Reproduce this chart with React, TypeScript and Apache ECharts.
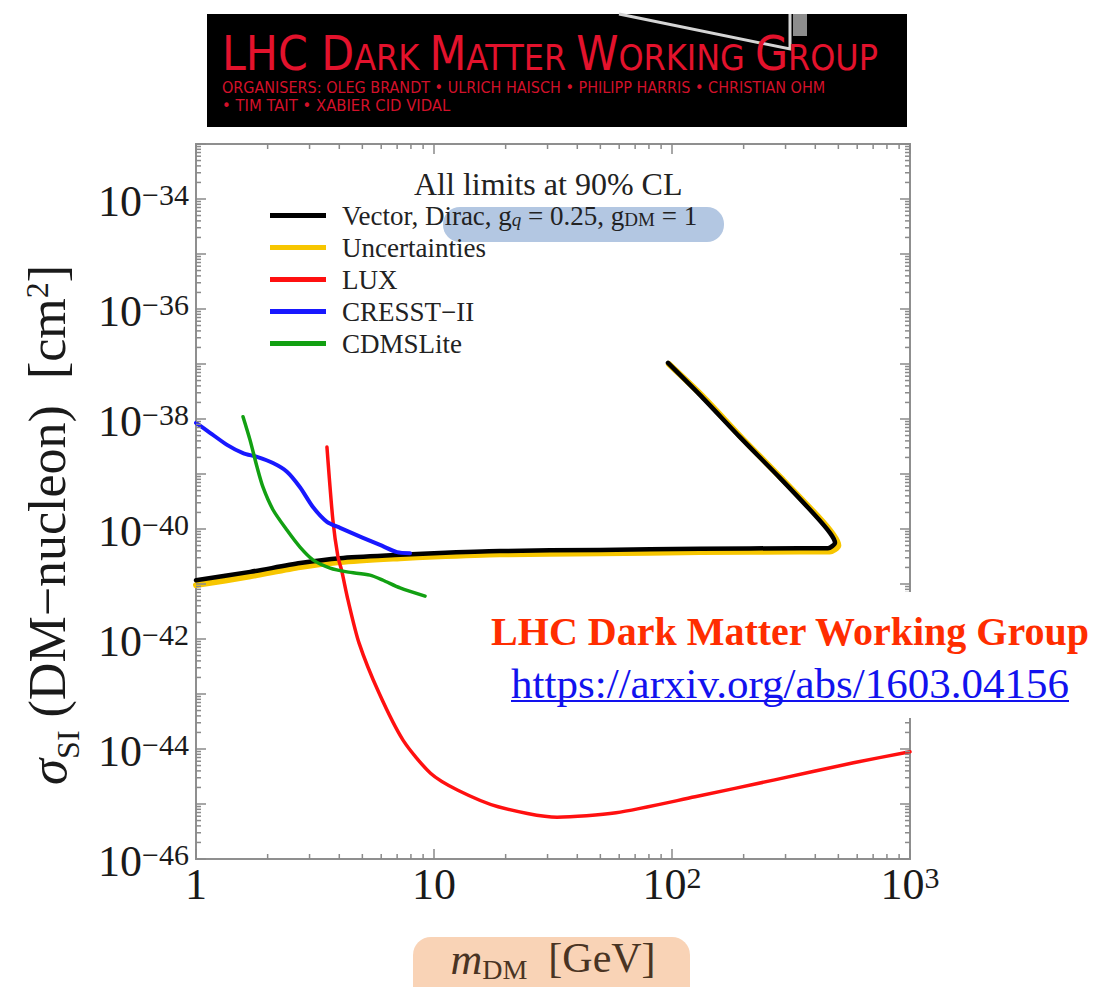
import React, { useEffect, useRef } from 'react';
import * as echarts from 'echarts';

// ---------- data ----------
const X_MIN = 1;
const X_MAX = 1000;
const Y_MIN = 1e-46;
const Y_MAX = 1e-33;

const SERIES_NAMES = ['Vector, Dirac, g_q = 0.25, g_DM = 1', 'Uncertainties', 'LUX', 'CRESST−II', 'CDMSLite'];

const VECTOR_M = [1, 1.69, 2.74, 4.03, 7.2, 10, 18.9, 49.8, 131, 344, 452, 484, 461, 399, 284, 193, 131, 96.2];
const VECTOR_SIGMA = [1.17e-41, 1.66e-41, 2.4e-41, 2.95e-41, 3.39e-41, 3.63e-41, 3.98e-41, 4.17e-41, 4.37e-41, 4.47e-41, 4.47e-41, 5.62e-41, 8.51e-41, 1.78e-40, 8.51e-40, 4.68e-39, 2.75e-38, 1.05e-37];

const UNC_M = [1, 1.69, 2.74, 4.03, 7.2, 10, 18.9, 49.8, 131, 344, 460, 500, 475, 410, 290, 197, 134, 97];
const UNC_SIGMA = [9.55e-42, 1.38e-41, 2.04e-41, 2.51e-41, 2.95e-41, 3.16e-41, 3.47e-41, 3.63e-41, 3.8e-41, 3.89e-41, 3.89e-41, 5.01e-41, 7.94e-41, 1.7e-40, 8.13e-40, 4.47e-39, 2.63e-38, 1.0e-37];

const LUX_M = [3.55, 3.76, 3.95, 4.09, 4.35, 4.84, 5.87, 7.41, 9.67, 12.6, 18.6, 32.9, 58.2, 125, 270, 579, 1000];
const LUX_SIGMA = [3.09e-39, 1.45e-40, 3.09e-41, 1.78e-41, 5.13e-42, 8.51e-43, 1.05e-43, 1.45e-44, 3.63e-45, 1.78e-45, 8.91e-46, 5.75e-46, 6.92e-46, 1.35e-45, 2.75e-45, 5.62e-45, 8.91e-45];

const CRESST_M = [1, 1.145, 1.35, 1.576, 1.804, 2.106, 2.41, 2.735, 3.1, 3.55, 4.03, 5.03, 5.93, 6.99, 7.93];
const CRESST_SIGMA = [8.51e-39, 5.62e-39, 3.39e-39, 2.4e-39, 2.04e-39, 1.58e-39, 1.1e-39, 5.75e-40, 2.51e-40, 1.35e-40, 1.05e-40, 6.92e-41, 5.13e-41, 3.8e-41, 3.63e-41];

const CDMS_M = [1.576, 1.686, 1.804, 1.912, 2.106, 2.41, 2.735, 3.1, 3.66, 4.31, 5.38, 6.11, 7.2, 9.17];
const CDMS_SIGMA = [1.1e-38, 4.17e-39, 1.35e-39, 5.75e-40, 2.24e-40, 9.55e-41, 4.68e-41, 2.75e-41, 1.95e-41, 1.66e-41, 1.45e-41, 1.17e-41, 8.51e-42, 6.03e-42];

// ---------- axis tick definitions ----------
const X_MAJOR_TICKS = [1, 10, 100, 1000];
const X_MINOR_TICKS = [2, 3, 4, 5, 6, 7, 8, 9, 20, 30, 40, 50, 60, 70, 80, 90, 200, 300, 400, 500, 600, 700, 800, 900];
const Y_MAJOR_TICKS = [1e-46, 1e-45, 1e-44, 1e-43, 1e-42, 1e-41, 1e-40, 1e-39, 1e-38, 1e-37, 1e-36, 1e-35, 1e-34, 1e-33];
const Y_LABEL_VALUES = [1e-46, 1e-44, 1e-42, 1e-40, 1e-38, 1e-36, 1e-34];
const MINOR_MULTIPLIERS = [2, 3, 4, 5, 6, 7, 8, 9];

const SERIF = '"Liberation Serif", "Times New Roman", serif';
const BANNER_FONT = '"Liberation Sans Narrow", "DejaVu Sans Condensed", "Open Sans", sans-serif';
const TICK_COLOR = '#8a8a8a';
const BANNER_RED = '#e3122c';
const BANNER_RED2 = '#d3112a';

const pairs = (xs: number[], ys: number[]) => xs.map((x, i) => [x, ys[i]]);

const Y_MINOR_TICKS: number[] = [];
Y_MAJOR_TICKS.slice(0, -1).forEach((d) => MINOR_MULTIPLIERS.forEach((k) => Y_MINOR_TICKS.push(k * d)));

const X_TICK_DATA = [
  ...X_MAJOR_TICKS.map((v) => [v, Y_MIN, 1]),
  ...X_MINOR_TICKS.map((v) => [v, Y_MIN, 0]),
];
const Y_TICK_DATA = [
  ...Y_MAJOR_TICKS.map((v) => [X_MIN, v, 1]),
  ...Y_MINOR_TICKS.map((v) => [X_MIN, v, 0]),
];
const Y_LABEL_DATA = Y_LABEL_VALUES.map((v) => [X_MIN, v]);

// banner title in small caps: capital initial + smaller remaining capitals
const BANNER_TITLE = '{B|LHC }{B|D}{S|ARK }{B|M}{S|ATTER }{B|W}{S|ORKING }{B|G}{S|ROUP}';
const BANNER_LINE_2 = 'ORGANISERS: OLEG BRANDT • ULRICH HAISCH • PHILIPP HARRIS • CHRISTIAN OHM';
const BANNER_LINE_3 = '• TIM TAIT • XABIER CID VIDAL';

const LABEL_RICH_ZR = {
  b: { fontSize: 44, fontFamily: SERIF, fill: '#1a1a1a', lineHeight: 44, padding: [17, 0, 17, 0], verticalAlign: 'middle' },
  s: { fontSize: 30, fontFamily: SERIF, fill: '#1a1a1a', lineHeight: 30, padding: [0, 0, 48, 0], verticalAlign: 'top' },
};
const LABEL_RICH_EC = {
  b: { fontSize: 44, fontFamily: SERIF, color: '#1a1a1a', lineHeight: 44, padding: [17, 0, 17, 0], verticalAlign: 'middle' },
  s: { fontSize: 30, fontFamily: SERIF, color: '#1a1a1a', lineHeight: 30, padding: [0, 0, 48, 0], verticalAlign: 'top' },
};

const expLabel = (v: number) => {
  const e = Math.round(Math.log10(v));
  if (e === 0) return '{b|1}';
  if (e === 1) return '{b|10}';
  return `{b|10}{s|${e < 0 ? '−' + -e : e}}`;
};

function renderXTicks(params: any, api: any) {
  const v = api.value(0);
  const major = api.value(2);
  const b = api.coord([v, Y_MIN]);
  const t = api.coord([v, Y_MAX]);
  const len = major ? 10 : 5;
  const style = { stroke: TICK_COLOR, lineWidth: 1.5 };
  return {
    type: 'group',
    children: [
      { type: 'line', shape: { x1: b[0], y1: b[1], x2: b[0], y2: b[1] - len }, style },
      { type: 'line', shape: { x1: t[0], y1: t[1], x2: t[0], y2: t[1] + len }, style },
    ],
  };
}

function renderYTicks(params: any, api: any) {
  const v = api.value(1);
  const major = api.value(2);
  const l = api.coord([X_MIN, v]);
  const r = api.coord([X_MAX, v]);
  const len = major ? 10 : 5;
  const style = { stroke: TICK_COLOR, lineWidth: 1.5 };
  return {
    type: 'group',
    children: [
      { type: 'line', shape: { x1: l[0], y1: l[1], x2: l[0] + len, y2: l[1] }, style },
      { type: 'line', shape: { x1: r[0], y1: r[1], x2: r[0] - len, y2: r[1] }, style },
    ],
  };
}

function renderYLabels(params: any, api: any) {
  const v = api.value(1);
  const p = api.coord([X_MIN, v]);
  return {
    type: 'text',
    x: p[0] - 7,
    y: p[1] + 2,
    style: { text: expLabel(v), rich: LABEL_RICH_ZR, align: 'right', verticalAlign: 'middle', fill: '#1a1a1a' },
  };
}

const legendFormatter = (name: string) => {
  if (name === SERIES_NAMES[0]) return '{t|Vector, Dirac, g}{q|q}{t| = 0.25, g}{d|DM}{t| = 1}';
  return `{t|${name}}`;
};

const lineSeries = (name: string, data: number[][], color: string, width: number, z: number) => ({
  type: 'line',
  name,
  data,
  color,
  z,
  showSymbol: false,
  symbol: 'none',
  smooth: 0.25,
  lineStyle: { color, width, cap: 'round', join: 'round' },
  emphasis: { disabled: true },
});

const option: any = {
  animation: false,
  backgroundColor: '#ffffff',
  title: {
    text: 'All limits at 90% CL',
    left: 414,
    top: 168,
    padding: 0,
    textStyle: { fontFamily: SERIF, fontSize: 32, fontWeight: 'normal', color: '#222' },
  },
  legend: {
    data: SERIES_NAMES,
    orient: 'vertical',
    left: 270,
    top: 202,
    padding: 0,
    itemWidth: 56,
    itemHeight: 5,
    itemGap: 5,
    icon: 'rect',
    selectedMode: false,
    z: 5,
    formatter: legendFormatter,
    textStyle: {
      fontFamily: SERIF,
      fontSize: 27,
      color: '#222',
      lineHeight: 27,
      padding: [0, 0, 0, 11],
      rich: {
        t: { fontFamily: SERIF, fontSize: 27, color: '#222', lineHeight: 27, verticalAlign: 'middle' },
        q: { fontFamily: SERIF, fontSize: 19, fontStyle: 'italic', color: '#222', lineHeight: 12, verticalAlign: 'bottom' },
        d: { fontFamily: SERIF, fontSize: 19, color: '#222', lineHeight: 12, verticalAlign: 'bottom' },
      },
    },
  },
  grid: {
    left: 196,
    top: 144,
    width: 714,
    height: 715,
    show: true,
    borderColor: '#8f8f8f',
    borderWidth: 2,
    backgroundColor: 'transparent',
    containLabel: false,
  },
  xAxis: {
    type: 'log',
    logBase: 10,
    min: X_MIN,
    max: X_MAX,
    axisLine: { show: false },
    axisTick: { show: false },
    splitLine: { show: false },
    minorTick: { show: false },
    axisLabel: { margin: 3, formatter: expLabel, rich: LABEL_RICH_EC, color: '#1a1a1a' },
  },
  yAxis: {
    type: 'log',
    logBase: 10,
    min: Y_MIN,
    max: Y_MAX,
    axisLine: { show: false },
    axisTick: { show: false },
    splitLine: { show: false },
    minorTick: { show: false },
    axisLabel: { show: false },
  },
  series: [
    lineSeries(SERIES_NAMES[1], pairs(UNC_M, UNC_SIGMA), '#f7c600', 6, 2),
    lineSeries(SERIES_NAMES[0], pairs(VECTOR_M, VECTOR_SIGMA), '#000000', 4.5, 3),
    lineSeries(SERIES_NAMES[2], pairs(LUX_M, LUX_SIGMA), '#ff1010', 3.5, 3),
    lineSeries(SERIES_NAMES[3], pairs(CRESST_M, CRESST_SIGMA), '#1818ff', 4, 3),
    lineSeries(SERIES_NAMES[4], pairs(CDMS_M, CDMS_SIGMA), '#12a012', 3.5, 3),
    {
      type: 'custom',
      name: 'xTicks',
      data: X_TICK_DATA,
      encode: { x: 0, y: 1 },
      renderItem: renderXTicks,
      clip: false,
      silent: true,
      z: 5,
    },
    {
      type: 'custom',
      name: 'yTicks',
      data: Y_TICK_DATA,
      encode: { x: 0, y: 1 },
      renderItem: renderYTicks,
      clip: false,
      silent: true,
      z: 5,
    },
    {
      type: 'custom',
      name: 'yLabels',
      data: Y_LABEL_DATA,
      encode: { x: 0, y: 1 },
      renderItem: renderYLabels,
      clip: false,
      silent: true,
      z: 5,
    },
  ],
  graphic: {
    elements: [
      // banner
      { type: 'rect', z: 20, shape: { x: 207, y: 14, width: 700, height: 113 }, style: { fill: '#000' } },
      {
        type: 'polyline',
        z: 21,
        shape: { points: [[619, 14], [790, 49], [790, 14]] },
        style: { stroke: '#d5d5d5', lineWidth: 3, fill: null },
      },
      { type: 'rect', z: 21, shape: { x: 793, y: 14, width: 14, height: 22 }, style: { fill: '#8d8d8d' } },
      {
        type: 'text',
        z: 22,
        x: 222,
        y: 55,
        style: {
          text: BANNER_TITLE,
          verticalAlign: 'middle',
          rich: {
            B: { fontFamily: BANNER_FONT, fontSize: 47.5, fill: BANNER_RED, lineHeight: 30, padding: [0, 0, 4, 0], verticalAlign: 'middle' },
            S: { fontFamily: BANNER_FONT, fontSize: 35.5, fill: BANNER_RED, lineHeight: 30, padding: [4, 0, 0, 0], verticalAlign: 'middle' },
          },
        },
      },
      {
        type: 'text',
        z: 22,
        x: 222,
        y: 87,
        style: {
          text: BANNER_LINE_2,
          verticalAlign: 'middle',
          fontFamily: BANNER_FONT,
          fontSize: 16,
          fill: BANNER_RED2,
        },
      },
      {
        type: 'text',
        z: 22,
        x: 222,
        y: 105,
        style: {
          text: BANNER_LINE_3,
          verticalAlign: 'middle',
          fontFamily: BANNER_FONT,
          fontSize: 16.5,
          fill: BANNER_RED2,
        },
      },
      // highlight behind legend entry
      {
        type: 'rect',
        z: 1,
        shape: { x: 443, y: 207, width: 281, height: 35, r: 17 },
        style: { fill: '#b3c7e2' },
      },
      // y-axis title
      {
        type: 'text',
        z: 20,
        x: 46,
        y: 525,
        rotation: Math.PI / 2,
        style: {
          text: '{i|σ}{sub|SI}{n| (DM−nucleon)  [cm}{sup|2}{n|]}',
          align: 'center',
          verticalAlign: 'middle',
          rich: {
            i: { fontFamily: SERIF, fontSize: 53, fontStyle: 'italic', fill: '#1a1a1a', lineHeight: 50, verticalAlign: 'top' },
            n: { fontFamily: SERIF, fontSize: 52, fill: '#1a1a1a', lineHeight: 50, verticalAlign: 'top' },
            sub: { fontFamily: SERIF, fontSize: 32, fill: '#1a1a1a', lineHeight: 18, padding: [31, 0, 0, 0], verticalAlign: 'top' },
            sup: { fontFamily: SERIF, fontSize: 32, fill: '#1a1a1a', lineHeight: 18, verticalAlign: 'top' },
          },
        },
      },
      // x-axis title box
      { type: 'rect', z: 20, shape: { x: 413, y: 937, width: 277, height: 80, r: 18 }, style: { fill: '#f9d3b6' } },
      {
        type: 'text',
        z: 21,
        x: 553,
        y: 952,
        style: {
          text: '{i|m}{sub|DM}{n|  [GeV]}',
          align: 'center',
          verticalAlign: 'middle',
          rich: {
            i: { fontFamily: SERIF, fontSize: 44, fontStyle: 'italic', fill: '#4a3423', lineHeight: 30, verticalAlign: 'top' },
            n: { fontFamily: SERIF, fontSize: 42, fill: '#4a3423', lineHeight: 30, verticalAlign: 'top' },
            sub: { fontFamily: SERIF, fontSize: 28, fill: '#4a3423', lineHeight: 14, padding: [18, 0, 0, 0], verticalAlign: 'top' },
          },
        },
      },
      // annotation on the right
      { type: 'rect', z: 20, shape: { x: 478, y: 592, width: 618, height: 126 }, style: { fill: '#ffffff' } },
      {
        type: 'text',
        z: 21,
        x: 790,
        y: 631,
        style: {
          text: 'LHC Dark Matter Working Group',
          align: 'center',
          verticalAlign: 'middle',
          fontFamily: SERIF,
          fontSize: 40,
          fontWeight: 'bold',
          fill: '#ff2d00',
        },
      },
      {
        type: 'text',
        z: 21,
        x: 790,
        y: 683,
        style: {
          text: 'https://arxiv.org/abs/1603.04156',
          align: 'center',
          verticalAlign: 'middle',
          fontFamily: SERIF,
          fontSize: 43,
          fill: '#1212ee',
        },
      },
      {
        type: 'line',
        z: 21,
        shape: { x1: 511, y1: 701, x2: 1069, y2: 701 },
        style: { stroke: '#1212ee', lineWidth: 2 },
      },
    ],
  },
};

export default function App() {
  const ref = useRef<HTMLDivElement>(null);
  useEffect(() => {
    if (!ref.current) return;
    const chart = echarts.init(ref.current, null, { renderer: 'svg' });
    chart.setOption(option);
    return () => chart.dispose();
  }, []);
  return (
    <div
      ref={ref}
      style={{ position: 'fixed', left: 0, top: 0, width: 1096, height: 987, background: '#ffffff' }}
    />
  );
}
